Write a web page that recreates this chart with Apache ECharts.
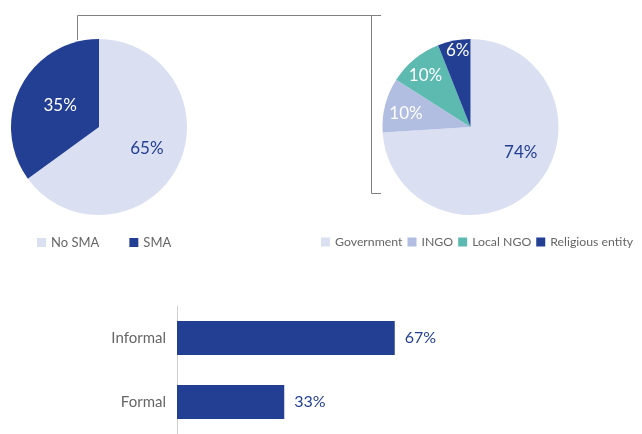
<!DOCTYPE html>
<html>
<head>
<meta charset="utf-8">
<script src="https://cdn.jsdelivr.net/npm/echarts@6/dist/echarts.min.js"></script>
<style>
  html, body { margin: 0; padding: 0; background: #fff; }
  #main { width: 642px; height: 434px; }
</style>
</head>
<body>
<div id="main"></div>
<script>
// data
const smaNames = ['No SMA', 'SMA'];
const smaValues = [65, 35];
const providerNames = ['Government', 'INGO', 'Local NGO', 'Religious entity'];
const providerValues = [74, 10, 10, 6];
const typeNames = ['Formal', 'Informal'];
const typeValues = [33, 67];

const DARK = '#233f94';
const LIGHT = '#dadff1';
const FONT = 'Lato';

const chart = echarts.init(document.getElementById('main'));

// nudge the pie labels toward where the original put them:
// horizontal via padding, vertical via an empty second line
const providerPadX = [[0, 0, 0, 32], [0, 38, 0, 0], [0, 30, 0, 0], [0, 8, 0, 0]];
const providerLift = [14, 4, 30, 60];
const lift = {};
providerLift.forEach((h, i) => { lift['g' + i] = { fontSize: 1, lineHeight: h }; });

const pieLabel = (color, pad, gap) => ({
  color: color,
  padding: pad,
  formatter: gap ? '{v|{c}%}\n{' + gap + '| }' : '{c}%',
  rich: Object.assign({ v: { color: color, fontSize: 17, fontFamily: FONT } }, lift)
});

const option = {
  animation: false,
  textStyle: { fontFamily: FONT },
  legend: [
    {
      data: smaNames,
      left: 37, top: 236, padding: 0,
      itemWidth: 9, itemHeight: 9, itemGap: 30,
      icon: 'rect',
      textStyle: { color: '#666', fontSize: 13, fontFamily: FONT }
    },
    {
      data: providerNames,
      left: 321, top: 236, padding: 0, width: 321,
      itemWidth: 9, itemHeight: 9, itemGap: 5,
      icon: 'rect',
      textStyle: { color: '#666', fontSize: 12.3, fontFamily: FONT }
    }
  ],
  grid: { left: 177, top: 306, width: 325, height: 136 },
  xAxis: { type: 'value', min: 0, max: 100, show: false },
  yAxis: {
    type: 'category',
    data: typeNames,
    axisLine: { lineStyle: { color: '#cfcfcf' } },
    axisTick: { show: false },
    axisLabel: { color: '#666', fontSize: 15, margin: 11, fontFamily: FONT }
  },
  graphic: [
    {
      type: 'polyline',
      shape: { points: [[77.5, 40], [77.5, 15.5], [381, 15.5]] },
      style: { stroke: '#808080', lineWidth: 1, fill: null }
    },
    {
      type: 'polyline',
      shape: { points: [[381, 15.5], [371.5, 15.5], [371.5, 193.5], [381, 193.5]] },
      style: { stroke: '#808080', lineWidth: 1, fill: null }
    }
  ],
  series: [
    {
      type: 'pie',
      center: [99, 127],
      radius: 88,
      startAngle: 90,
      label: { position: 'inside', fontSize: 17, fontFamily: FONT, formatter: '{c}%' },
      labelLine: { show: false },
      emphasis: { disabled: true },
      data: smaNames.map((n, i) => ({
        name: n,
        value: smaValues[i],
        itemStyle: { color: i === 0 ? LIGHT : DARK },
        label: i === 0
          ? { color: DARK, padding: [0, 0, 0, 12] }
          : { color: '#fff', padding: [0, 0, 0, 6] }
      }))
    },
    {
      type: 'pie',
      center: [470.5, 127],
      radius: 88,
      startAngle: 90,
      label: { position: 'inside', fontSize: 17, fontFamily: FONT },
      labelLine: { show: false },
      emphasis: { disabled: true },
      data: providerNames.map((n, i) => ({
        name: n,
        value: providerValues[i],
        itemStyle: { color: [LIGHT, '#b1bee1', '#5dbab1', DARK][i] },
        label: pieLabel(i === 0 ? DARK : '#fff', providerPadX[i], 'g' + i)
      }))
    },
    {
      type: 'bar',
      data: typeValues,
      barWidth: 34,
      itemStyle: { color: DARK },
      label: {
        show: true, position: 'right', distance: 10,
        color: DARK, fontSize: 16, fontFamily: FONT, formatter: '{c}%'
      }
    }
  ]
};

chart.setOption(option);
</script>
</body>
</html>
